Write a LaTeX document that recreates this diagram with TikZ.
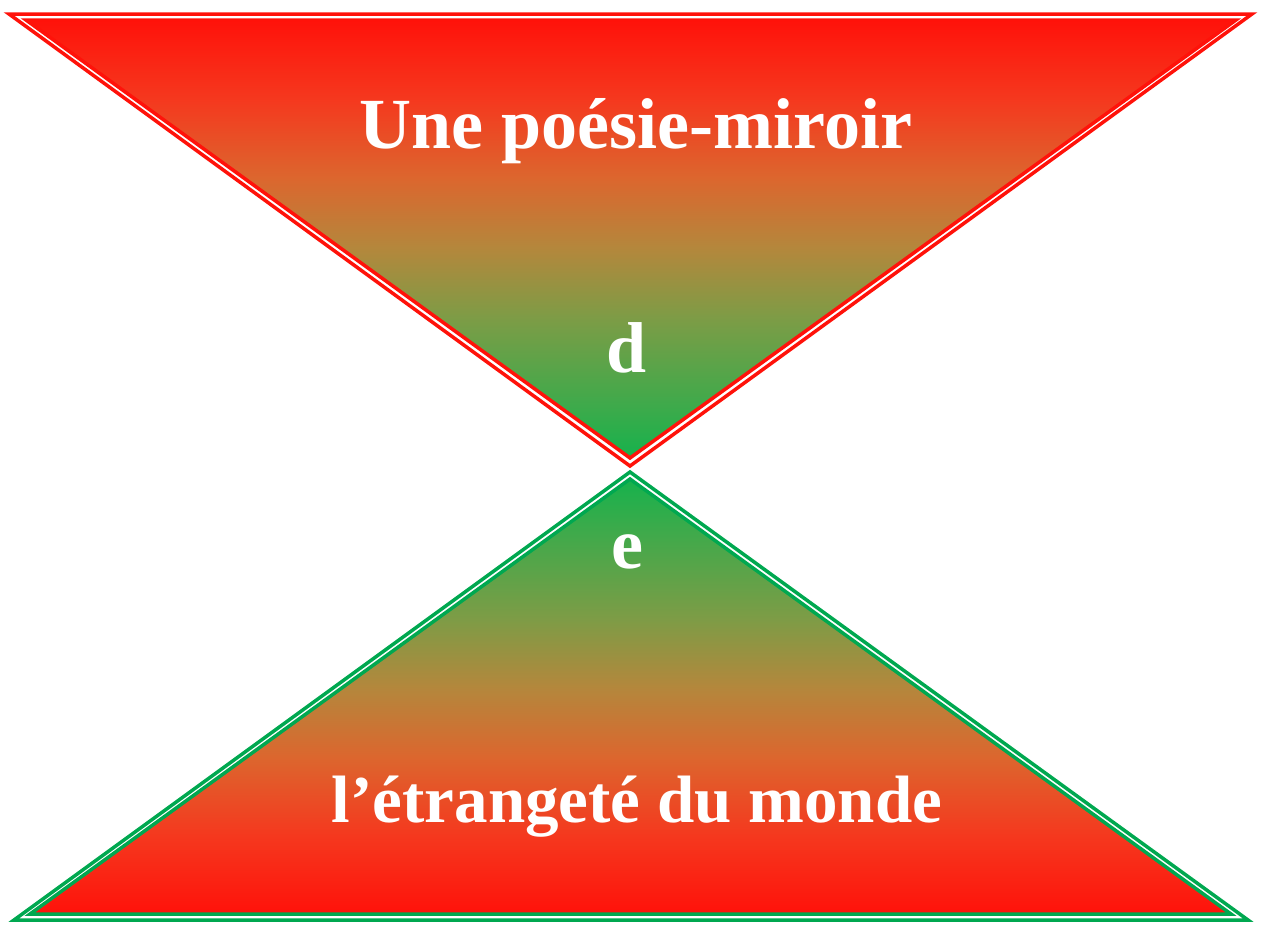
\documentclass[tikz,border=0pt]{standalone}
\usepackage{fontspec}
\setmainfont{Liberation Serif}
\usepackage{tikz}
\definecolor{hgred}{RGB}{255,18,10}
\definecolor{hggreen}{RGB}{0,168,80}
\definecolor{hgtip}{RGB}{22,178,76}
\definecolor{hgA}{RGB}{245,56,30}
\definecolor{hgB}{RGB}{220,102,46}
\definecolor{hgC}{RGB}{180,135,60}
\definecolor{hgD}{RGB}{125,156,70}
\definecolor{hgE}{RGB}{62,170,75}
\pgfdeclareverticalshading{hgdown}{100bp}{color(0bp)=(hgtip); color(25bp)=(hgtip);
	color(31bp)=(hgE); color(41bp)=(hgD); color(49bp)=(hgC); color(57bp)=(hgB);
	color(66bp)=(hgA); color(75bp)=(hgred); color(100bp)=(hgred)}
\pgfdeclareverticalshading{hgup}{100bp}{color(0bp)=(hgred); color(25bp)=(hgred);
	color(34bp)=(hgA); color(43bp)=(hgB); color(51bp)=(hgC); color(59bp)=(hgD);
	color(69bp)=(hgE); color(75bp)=(hgtip); color(100bp)=(hgtip)}

\begin{document}
\begin{tikzpicture}[x=1pt,y=-1pt,
		edge/.style={line width=3.5pt, line join=miter},
		title/.style={text=white, inner sep=0pt, anchor=base,
				font=\fontsize{72}{72}\selectfont\bfseries}
		]
		\useasboundingbox (0,0) rectangle (1261,924);
		% upper triangle
		\draw[edge, hgred] (9,14) -- (1252,14) -- (630,466) -- cycle;
		\draw[edge, hgred, shading=hgdown]
		(26,20) -- (1236,20) -- (630,458) -- cycle;
		% lower triangle
		\draw[edge, hggreen] (630,472) -- (1248,920) -- (14,920) -- cycle;
		\draw[edge, hggreen, shading=hgup]
		(630,479) -- (1231,914) -- (30,914) -- cycle;
		% texts
		\node[title] (top) at (636,148) {Une poésie-miroir};
		\node[title] (d) at (627,372) {d};
		\node[title] (e) at (627,568) {e};
		\node[title, font=\fontsize{67}{67}\selectfont\bfseries] (bot) at (637,822)
		{l’étrangeté du monde};
\end{tikzpicture}
\end{document}
